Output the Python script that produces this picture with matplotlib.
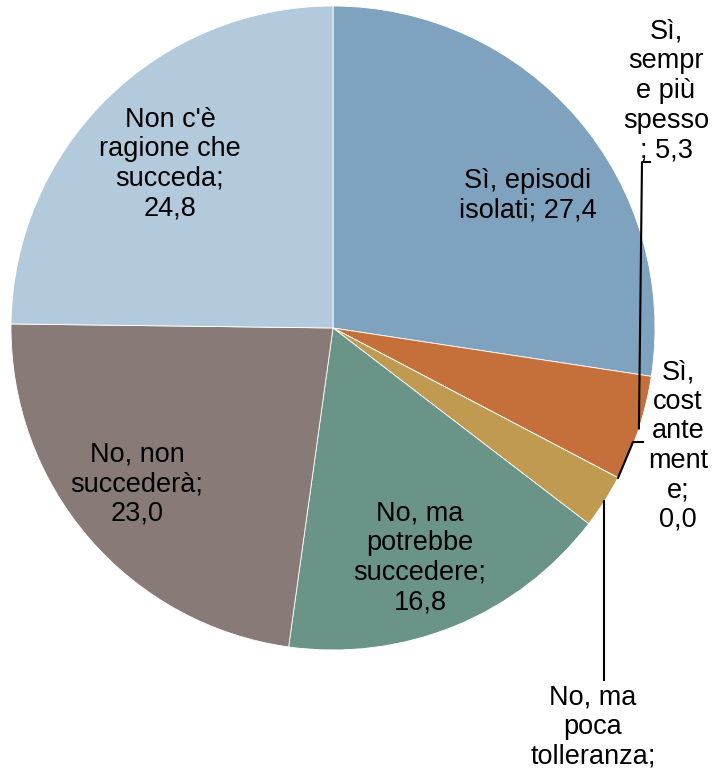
import numpy as np
import matplotlib
matplotlib.use("Agg")
import matplotlib.pyplot as plt

plt.rcParams['font.family'] = ['Liberation Sans', 'DejaVu Sans']

# data
categories = ["Sì, episodi isolati", "Sì, sempre più spesso", "Sì, costantemente",
              "No, ma poca tolleranza", "No, ma potrebbe succedere",
              "No, non succederà", "Non c'è ragione che succeda"]
values = [27.4, 5.3, 0.0, 2.7, 16.8, 23.0, 24.8]
colors = ["#7FA2BE", "#C5703B", "#C5703B", "#C09A50", "#6B9488", "#877A77", "#B3CADD"]
# wrapped as in the original (last one is cut off by the chart border)
label_texts = ["Sì, episodi\nisolati; 27,4",
               "Sì,\nsempr\ne più\nspesso\n; 5,3",
               "Sì,\ncost\nante\nment\ne;\n0,0",
               "No, ma\npoca\ntolleranza;",
               "No, ma\npotrebbe\nsuccedere;\n16,8",
               "No, non\nsuccederà;\n23,0",
               "Non c'è\nragione che\nsucceda;\n24,8"]

W, H = 714, 778
fig = plt.figure(figsize=(W / 100, H / 100), dpi=100)
ax = fig.add_axes([0, 0, 1, 1])

cx, cy, R = 333, H - 328, 322
wedges, _ = ax.pie(values, colors=colors, startangle=90, counterclock=False,
                   radius=R, center=(cx, cy), frame=True,
                   wedgeprops=dict(edgecolor='white', linewidth=0.6))
ax.set_xlim(0, W)
ax.set_ylim(0, H)
ax.axis('off')

# wedge mid angles (degrees) and anchor points on the rim
cum = np.cumsum([0] + values)
mids = 90 - (cum[:-1] + np.array(values) / 2) * 3.6

def rim(i, r=R):
    a = np.deg2rad(mids[i])
    return cx + r * np.cos(a), cy + r * np.sin(a)

fs = 19.5
ls = 1.18
# inside labels
inside = {0: (528, 196), 4: (420, 558), 5: (137, 484), 6: (170, 164)}
for i, (px, py) in inside.items():
    ax.text(px, H - py, label_texts[i], ha='center', va='center', fontsize=fs,
            linespacing=ls)

# outside labels with leader lines
ax.text(666, H - 91, label_texts[1], ha='center', va='center', fontsize=fs, linespacing=ls)
x0, y0 = rim(1)
ax.plot([x0, 642, 650], [y0, H - 162, H - 162], color='black', lw=1.5)

ax.text(678, H - 446, label_texts[2], ha='center', va='center', fontsize=fs, linespacing=ls)
x0, y0 = rim(2)
ax.plot([x0, 633, 643], [y0, H - 442, H - 442], color='black', lw=1.5)

ax.text(593, H - 684, label_texts[3], ha='center', va='top', fontsize=fs, linespacing=ls)
x0, y0 = rim(3)
ax.plot([x0, x0], [y0, H - 680], color='black', lw=1.5)

fig.savefig("out.png", dpi=100)
